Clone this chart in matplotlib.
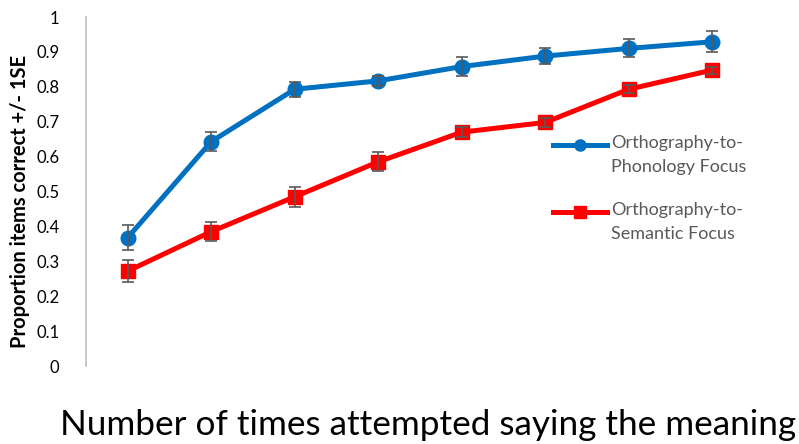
import numpy as np
import matplotlib
matplotlib.use("Agg")
import matplotlib.pyplot as plt
from matplotlib.lines import Line2D

# attempts 1..8 (no tick labels shown on x axis)
attempts = [1, 2, 3, 4, 5, 6, 7, 8]
phon_mean = [0.368, 0.643, 0.793, 0.817, 0.858, 0.888, 0.910, 0.929]
phon_se = [0.037, 0.028, 0.022, 0.015, 0.026, 0.023, 0.026, 0.030]
sem_mean = [0.272, 0.385, 0.485, 0.585, 0.670, 0.698, 0.793, 0.848]
sem_se = [0.032, 0.027, 0.028, 0.027, 0.015, 0.013, 0.012, 0.010]
labels = ["Orthography-to-\nPhonology Focus", "Orthography-to-\nSemantic Focus"]
yticks = [0, 0.1, 0.2, 0.3, 0.4, 0.5, 0.6, 0.7, 0.8, 0.9, 1]
ytick_labels = ["0", "0.1", "0.2", "0.3", "0.4", "0.5", "0.6", "0.7", "0.8", "0.9", "1"]

plt.rcParams['font.family'] = ['Lato', 'DejaVu Sans']

fig = plt.figure(figsize=(7.99, 4.44), dpi=100)
ax = fig.add_axes([86/799, 78/444, 668/799, 349/444])

blue = '#0070C0'
red = '#FF0000'
ax.plot(attempts, phon_mean, color=blue, lw=3.6, marker='o', ms=10.5, zorder=3)
ax.plot(attempts, sem_mean, color=red, lw=3.6, marker='s', ms=10, zorder=3)
ax.errorbar(attempts, phon_mean, yerr=phon_se, fmt='none', ecolor='#595959', elinewidth=1.2, capsize=4, capthick=1.2, zorder=4)
ax.errorbar(attempts, sem_mean, yerr=sem_se, fmt='none', ecolor='#595959', elinewidth=1.2, capsize=4, capthick=1.2, zorder=4)

ax.set_xlim(0.5, 8.5)
ax.set_ylim(0, 1)
ax.set_xticks([])
ax.set_yticks(yticks)
ax.set_yticklabels(ytick_labels, fontsize=12)
ax.tick_params(axis='y', length=0, pad=19)
for s in ['top', 'right', 'bottom']:
    ax.spines[s].set_visible(False)
ax.spines['left'].set_color('#BFBFBF')
ax.spines['left'].set_linewidth(1.2)

fig.text(20/799, 1 - 201/444, "Proportion items correct +/- 1SE", fontsize=14.5, fontweight='bold',
         rotation=90, ha='center', va='center')
fig.text(428/799, 1 - 425/444, "Number of times attempted saying the meaning", fontsize=25.3, ha='center', va='center')

# legend drawn by hand: handle sits beside the first line of each two-line label
leg_styles = [(blue, 'o', 8), (red, 's', 8)]
leg_rows = [145, 212]
for (c, m, ms), row, lab in zip(leg_styles, leg_rows, labels):
    yf = 1 - row / 444
    fig.add_artist(Line2D([553/799, 607/799], [yf, yf], color=c, lw=3.6, transform=fig.transFigure))
    fig.add_artist(Line2D([580/799], [yf], color=c, marker=m, ms=ms, transform=fig.transFigure))
    fig.text(611/799, yf + 10/444, lab, fontsize=13, color='#595959', ha='left', va='top',
             linespacing=1.65)

fig.savefig("out.png", dpi=100)
